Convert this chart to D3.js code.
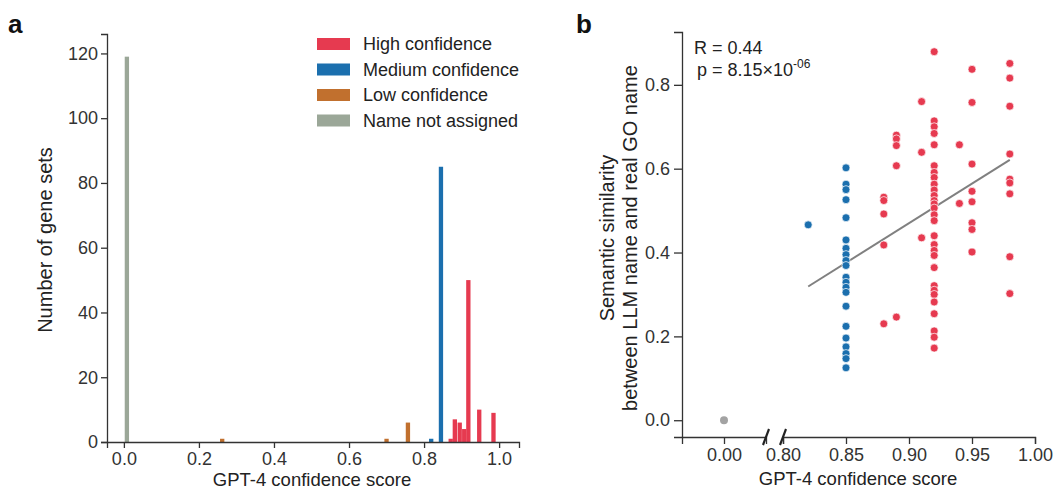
<!DOCTYPE html>
<html>
<head>
<meta charset="utf-8">
<script src="https://cdn.jsdelivr.net/npm/d3@7"></script>
<style>
  body { margin: 0; background: #fff; }
  svg { display: block; font-family: "Liberation Sans", Arial, Helvetica, sans-serif; }
  .axis path, .axis line { stroke: #333; stroke-width: 1.3; }
  .axis text { fill: #333; font-size: 18px; font-family: "Liberation Sans", Arial, sans-serif; }
</style>
</head>
<body>
<script>
// panel a: histogram bins (bin centre, count) per confidence class
const highX = [0.871, 0.882, 0.895, 0.907, 0.918, 0.947, 0.985];
const highN = [1, 7, 6, 4, 50, 10, 9];
const mediumX = [0.819, 0.845];
const mediumN = [1, 85];
const lowX = [0.262, 0.700, 0.757];
const lowN = [1, 1, 6];
const naX = [0.008];
const naN = [119];
const histTicksX = [0, 0.2, 0.4, 0.6, 0.8, 1.0];
const histTicksY = [0, 20, 40, 60, 80, 100, 120];
const legendLabels = ['High confidence', 'Medium confidence', 'Low confidence', 'Name not assigned'];

// panel b: semantic similarity per confidence score
const blueScore = [0.82, 0.85];
const blueSim = [
  [0.466],
  [0.602, 0.563, 0.550, 0.526, 0.483, 0.430, 0.410, 0.395, 0.381, 0.369, 0.341, 0.329,
   0.317, 0.305, 0.272, 0.224, 0.196, 0.175, 0.159, 0.147, 0.125]
];
const redScore = [0.88, 0.89, 0.91, 0.92, 0.94, 0.95, 0.98];
const redSim = [
  [0.532, 0.524, 0.492, 0.418, 0.230],
  [0.680, 0.671, 0.655, 0.607, 0.246],
  [0.760, 0.639, 0.435],
  [0.879, 0.714, 0.700, 0.684, 0.657, 0.607, 0.591, 0.579, 0.563, 0.549, 0.536, 0.524,
   0.516, 0.506, 0.490, 0.476, 0.440, 0.419, 0.405, 0.393, 0.364, 0.321, 0.310, 0.300,
   0.282, 0.254, 0.213, 0.198, 0.172],
  [0.657, 0.517],
  [0.837, 0.758, 0.611, 0.546, 0.521, 0.471, 0.455, 0.401],
  [0.851, 0.816, 0.749, 0.635, 0.575, 0.566, 0.540, 0.390, 0.302]
];
const grayScore = [0.00];
const graySim = [0.00];
const fitX = [0.82, 0.98];
const fitY = [0.319, 0.621];
const scatterTicksX = [0.80, 0.85, 0.90, 0.95, 1.00];
const scatterTicksY = [0, 0.2, 0.4, 0.6, 0.8];

const colors = {
  high: '#e63a50',
  medium: '#1b6fae',
  low: '#c1702e',
  na: '#9ba798'
};

const width = 1053;
const height = 491;

const svg = d3.select('body').append('svg')
  .attr('width', width)
  .attr('height', height);

// ---------- panel a ----------
const xA = d3.scaleLinear().domain([-0.045, 1.053]).range([107, 519]);
const yA = d3.scaleLinear().domain([0, 126]).range([442, 34]);
const barW = xA(0.0115) - xA(0);

const groups = [
  { key: 'high', xs: highX, ns: highN },
  { key: 'medium', xs: mediumX, ns: mediumN },
  { key: 'low', xs: lowX, ns: lowN },
  { key: 'na', xs: naX, ns: naN }
];

const bars = svg.append('g');
groups.forEach(g => {
  bars.selectAll(null).data(g.xs.map((x, i) => ({ x: x, n: g.ns[i] })))
    .enter().append('rect')
    .attr('x', d => xA(d.x) - barW / 2)
    .attr('y', d => yA(d.n))
    .attr('width', barW)
    .attr('height', d => yA(0) - yA(d.n))
    .attr('fill', colors[g.key]);
});

svg.append('g')
  .attr('class', 'axis')
  .attr('transform', `translate(0, ${yA(0)})`)
  .call(d3.axisBottom(xA).tickValues(histTicksX).tickFormat(d3.format('.1f'))
    .tickSizeOuter(0).tickSize(6).tickPadding(4));

svg.append('g')
  .attr('class', 'axis')
  .attr('transform', `translate(${xA.range()[0]}, 0)`)
  .call(d3.axisLeft(yA).tickValues(histTicksY).tickSizeOuter(0).tickSize(6).tickPadding(3));

svg.append('text')
  .attr('x', 312).attr('y', 486)
  .attr('text-anchor', 'middle')
  .attr('font-size', 18.5).attr('fill', '#222')
  .text('GPT-4 confidence score');

svg.append('text')
  .attr('transform', 'translate(52, 240) rotate(-90)')
  .attr('text-anchor', 'middle')
  .attr('font-size', 20).attr('fill', '#222')
  .text('Number of gene sets');

svg.append('text')
  .attr('x', 8).attr('y', 33)
  .attr('font-size', 26).attr('font-weight', 'bold').attr('fill', '#111')
  .text('a');

// legend
const legend = svg.append('g').attr('transform', 'translate(317, 38)');
const legendKeys = ['high', 'medium', 'low', 'na'];
legendKeys.forEach((k, i) => {
  const row = legend.append('g').attr('transform', `translate(0, ${i * 25.5})`);
  row.append('rect')
    .attr('width', 33).attr('height', 12)
    .attr('fill', colors[k]);
  row.append('text')
    .attr('x', 46).attr('y', 12)
    .attr('font-size', 18).attr('fill', '#222')
    .text(legendLabels[i]);
});

// ---------- panel b ----------
const yB = d3.scaleLinear().domain([-0.04, 0.926]).range([437, 32]);
const xLow = d3.scaleLinear().domain([-0.04, 0.04]).range([682, 766]);
const xHigh = d3.scaleLinear().domain([0.8, 1.0]).range([783, 1035]);

svg.append('g')
  .attr('class', 'axis')
  .attr('transform', `translate(0, ${yB.range()[0]})`)
  .call(d3.axisBottom(xLow).tickValues([0]).tickFormat(d3.format('.2f'))
    .tickSizeOuter(0).tickSize(7).tickPadding(4));

svg.append('g')
  .attr('class', 'axis')
  .attr('transform', `translate(0, ${yB.range()[0]})`)
  .call(d3.axisBottom(xHigh).tickValues(scatterTicksX).tickFormat(d3.format('.2f'))
    .tickSizeOuter(0).tickSize(7).tickPadding(4));

// axis break marks
[xLow.range()[1], xHigh.range()[0]].forEach(bx => {
  svg.append('line')
    .attr('x1', bx - 3).attr('y1', yB.range()[0] + 8)
    .attr('x2', bx + 3).attr('y2', yB.range()[0] - 8)
    .attr('stroke', '#222').attr('stroke-width', 2.2);
});

svg.append('g')
  .attr('class', 'axis')
  .attr('transform', `translate(${xLow.range()[0]}, 0)`)
  .call(d3.axisLeft(yB).tickValues(scatterTicksY).tickFormat(d3.format('.1f'))
    .tickSizeOuter(0).tickSize(8).tickPadding(4));

// fit line
svg.append('line')
  .attr('x1', xHigh(fitX[0])).attr('y1', yB(fitY[0]))
  .attr('x2', xHigh(fitX[1])).attr('y2', yB(fitY[1]))
  .attr('stroke', '#808080').attr('stroke-width', 2);

const points = [];
blueScore.forEach((s, i) => blueSim[i].forEach(v => points.push({ s: s, v: v, c: colors.medium })));
redScore.forEach((s, i) => redSim[i].forEach(v => points.push({ s: s, v: v, c: colors.high })));

svg.append('g').selectAll('circle').data(points)
  .enter().append('circle')
  .attr('cx', d => xHigh(d.s))
  .attr('cy', d => yB(d.v))
  .attr('r', 4)
  .attr('fill', d => d.c)
  .attr('stroke', '#fff')
  .attr('stroke-width', 0.7);

svg.append('g').selectAll('circle').data(grayScore)
  .enter().append('circle')
  .attr('cx', d => xLow(d))
  .attr('cy', (d, i) => yB(graySim[i]))
  .attr('r', 4)
  .attr('fill', '#a3a3a3');

// stats text
const stats = svg.append('g').attr('font-size', 18).attr('fill', '#222');
stats.append('text').attr('x', 694).attr('y', 54).text('R = 0.44');
const pText = stats.append('text').attr('x', 697).attr('y', 76);
pText.append('tspan').text('p = 8.15×10');
pText.append('tspan').attr('font-size', 12).attr('dy', -8).text('-06');

svg.append('text')
  .attr('x', 858).attr('y', 485)
  .attr('text-anchor', 'middle')
  .attr('font-size', 18.5).attr('fill', '#222')
  .text('GPT-4 confidence score');

const yTitle = svg.append('text')
  .attr('transform', 'translate(0, 238) rotate(-90)')
  .attr('text-anchor', 'middle')
  .attr('font-size', 20).attr('fill', '#222');
yTitle.append('tspan').attr('x', 0).attr('y', 614).text('Semantic similarity');
yTitle.append('tspan').attr('x', 0).attr('y', 637).text('between LLM name and real GO name');

svg.append('text')
  .attr('x', 576).attr('y', 33)
  .attr('font-size', 26).attr('font-weight', 'bold').attr('fill', '#111')
  .text('b');
</script>
</body>
</html>
